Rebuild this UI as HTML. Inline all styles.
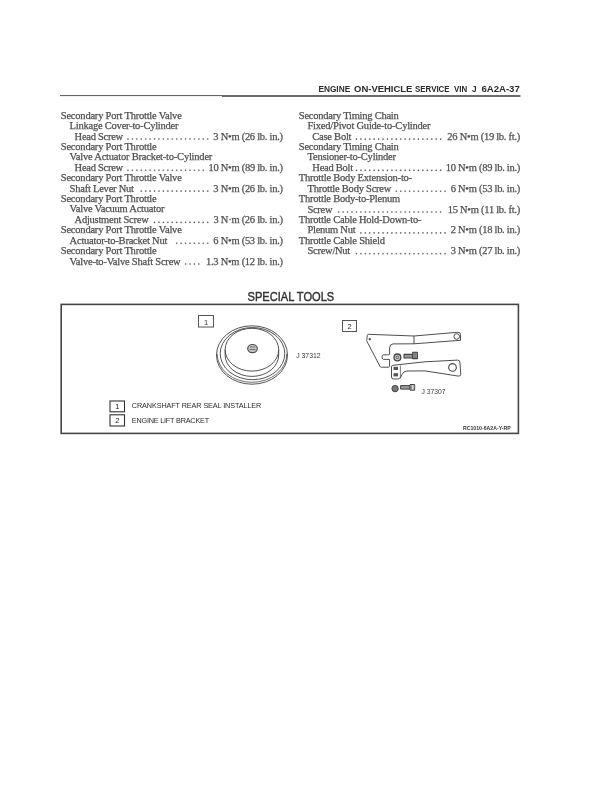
<!DOCTYPE html>
<html><head><meta charset="utf-8">
<style>
html,body{margin:0;padding:0;background:#fff;}
body{width:612px;height:791px;overflow:hidden;position:relative;}
svg{position:absolute;left:0;top:0;}
#wrap{position:absolute;left:0;top:0;width:612px;height:791px;will-change:transform;}
</style></head>
<body>
<div id="wrap">
<svg width="612" height="791" viewBox="0 0 612 791">
<!-- header -->
<g font-family="Liberation Sans" font-weight="bold" font-size="9.6" fill="#2a2a2a">
<text x="318.4" y="92.4" textLength="31.8" lengthAdjust="spacingAndGlyphs">ENGINE</text>
<text x="354.1" y="92.4" textLength="58.3" lengthAdjust="spacingAndGlyphs">ON-VEHICLE</text>
<text x="415" y="92.4" textLength="34.6" lengthAdjust="spacingAndGlyphs">SERVICE</text>
<text x="454.1" y="92.4" textLength="13.2" lengthAdjust="spacingAndGlyphs">VIN</text>
<text x="472" y="92.4" textLength="4.6" lengthAdjust="spacingAndGlyphs">J</text>
<text x="481.4" y="92.4" textLength="38.4" lengthAdjust="spacingAndGlyphs">6A2A-37</text>
</g>
<path d="M60 95.6H222" stroke="#555" stroke-width="1"/>
<path d="M222 95.9H520.5" stroke="#3a3a3a" stroke-width="1.5"/>
<!-- body text -->
<g font-family="Liberation Serif" font-size="10.5" fill="#505050" stroke="#505050" stroke-width="0.25">
<text x="60.80" y="118.70" textLength="121.00" lengthAdjust="spacing">Secondary Port Throttle Valve</text>
<text x="69.60" y="129.12" textLength="108.94" lengthAdjust="spacing">Linkage Cover-to-Cylinder</text>
<text x="74.60" y="139.54" textLength="48.59" lengthAdjust="spacing">Head Screw</text>
<text x="213.34" y="139.54" textLength="69.66" lengthAdjust="spacing">3 N•m (26 lb. in.)</text>
<path fill="#555" d="M207.15 138.44h1.1v1.1h-1.1zM202.72 138.44h1.1v1.1h-1.1zM198.29 138.44h1.1v1.1h-1.1zM193.86 138.44h1.1v1.1h-1.1zM189.43 138.44h1.1v1.1h-1.1zM185.00 138.44h1.1v1.1h-1.1zM180.57 138.44h1.1v1.1h-1.1zM176.14 138.44h1.1v1.1h-1.1zM171.71 138.44h1.1v1.1h-1.1zM167.28 138.44h1.1v1.1h-1.1zM162.85 138.44h1.1v1.1h-1.1zM158.42 138.44h1.1v1.1h-1.1zM153.99 138.44h1.1v1.1h-1.1zM149.56 138.44h1.1v1.1h-1.1zM145.13 138.44h1.1v1.1h-1.1zM140.70 138.44h1.1v1.1h-1.1zM136.27 138.44h1.1v1.1h-1.1zM131.84 138.44h1.1v1.1h-1.1zM127.41 138.44h1.1v1.1h-1.1z"/>
<text x="60.80" y="149.96" textLength="95.91" lengthAdjust="spacing">Secondary Port Throttle</text>
<text x="69.60" y="160.38" textLength="142.73" lengthAdjust="spacing">Valve Actuator Bracket-to-Cylinder</text>
<text x="74.60" y="170.80" textLength="48.59" lengthAdjust="spacing">Head Screw</text>
<text x="208.42" y="170.80" textLength="74.58" lengthAdjust="spacing">10 N•m (89 lb. in.)</text>
<path fill="#555" d="M202.72 169.70h1.1v1.1h-1.1zM198.29 169.70h1.1v1.1h-1.1zM193.86 169.70h1.1v1.1h-1.1zM189.43 169.70h1.1v1.1h-1.1zM185.00 169.70h1.1v1.1h-1.1zM180.57 169.70h1.1v1.1h-1.1zM176.14 169.70h1.1v1.1h-1.1zM171.71 169.70h1.1v1.1h-1.1zM167.28 169.70h1.1v1.1h-1.1zM162.85 169.70h1.1v1.1h-1.1zM158.42 169.70h1.1v1.1h-1.1zM153.99 169.70h1.1v1.1h-1.1zM149.56 169.70h1.1v1.1h-1.1zM145.13 169.70h1.1v1.1h-1.1zM140.70 169.70h1.1v1.1h-1.1zM136.27 169.70h1.1v1.1h-1.1zM131.84 169.70h1.1v1.1h-1.1zM127.41 169.70h1.1v1.1h-1.1z"/>
<text x="60.80" y="181.22" textLength="121.00" lengthAdjust="spacing">Secondary Port Throttle Valve</text>
<text x="69.60" y="191.64" textLength="64.42" lengthAdjust="spacing">Shaft Lever Nut</text>
<text x="213.34" y="191.64" textLength="69.66" lengthAdjust="spacing">3 N•m (26 lb. in.)</text>
<path fill="#555" d="M207.15 190.54h1.1v1.1h-1.1zM202.72 190.54h1.1v1.1h-1.1zM198.29 190.54h1.1v1.1h-1.1zM193.86 190.54h1.1v1.1h-1.1zM189.43 190.54h1.1v1.1h-1.1zM185.00 190.54h1.1v1.1h-1.1zM180.57 190.54h1.1v1.1h-1.1zM176.14 190.54h1.1v1.1h-1.1zM171.71 190.54h1.1v1.1h-1.1zM167.28 190.54h1.1v1.1h-1.1zM162.85 190.54h1.1v1.1h-1.1zM158.42 190.54h1.1v1.1h-1.1zM153.99 190.54h1.1v1.1h-1.1zM149.56 190.54h1.1v1.1h-1.1zM145.13 190.54h1.1v1.1h-1.1zM140.70 190.54h1.1v1.1h-1.1z"/>
<text x="60.80" y="202.06" textLength="95.91" lengthAdjust="spacing">Secondary Port Throttle</text>
<text x="69.60" y="212.48" textLength="94.79" lengthAdjust="spacing">Valve Vacuum Actuator</text>
<text x="74.60" y="222.90" textLength="74.16" lengthAdjust="spacing">Adjustment Screw</text>
<text x="213.51" y="222.90" textLength="69.49" lengthAdjust="spacing">3 N·m (26 lb. in.)</text>
<path fill="#555" d="M207.15 221.80h1.1v1.1h-1.1zM202.72 221.80h1.1v1.1h-1.1zM198.29 221.80h1.1v1.1h-1.1zM193.86 221.80h1.1v1.1h-1.1zM189.43 221.80h1.1v1.1h-1.1zM185.00 221.80h1.1v1.1h-1.1zM180.57 221.80h1.1v1.1h-1.1zM176.14 221.80h1.1v1.1h-1.1zM171.71 221.80h1.1v1.1h-1.1zM167.28 221.80h1.1v1.1h-1.1zM162.85 221.80h1.1v1.1h-1.1zM158.42 221.80h1.1v1.1h-1.1zM153.99 221.80h1.1v1.1h-1.1z"/>
<text x="60.80" y="233.32" textLength="121.00" lengthAdjust="spacing">Secondary Port Throttle Valve</text>
<text x="69.60" y="243.74" textLength="97.82" lengthAdjust="spacing">Actuator-to-Bracket Nut</text>
<text x="213.34" y="243.74" textLength="69.66" lengthAdjust="spacing">6 N•m (53 lb. in.)</text>
<path fill="#555" d="M207.15 242.64h1.1v1.1h-1.1zM202.72 242.64h1.1v1.1h-1.1zM198.29 242.64h1.1v1.1h-1.1zM193.86 242.64h1.1v1.1h-1.1zM189.43 242.64h1.1v1.1h-1.1zM185.00 242.64h1.1v1.1h-1.1zM180.57 242.64h1.1v1.1h-1.1zM176.14 242.64h1.1v1.1h-1.1z"/>
<text x="60.80" y="254.16" textLength="95.91" lengthAdjust="spacing">Secondary Port Throttle</text>
<text x="69.60" y="264.58" textLength="111.08" lengthAdjust="spacing">Valve-to-Valve Shaft Screw</text>
<text x="205.96" y="264.58" textLength="77.04" lengthAdjust="spacing">1.3 N•m (12 lb. in.)</text>
<path fill="#555" d="M198.29 263.48h1.1v1.1h-1.1zM193.86 263.48h1.1v1.1h-1.1zM189.43 263.48h1.1v1.1h-1.1zM185.00 263.48h1.1v1.1h-1.1z"/>
<text x="298.80" y="118.80" textLength="100.00" lengthAdjust="spacing">Secondary Timing Chain</text>
<text x="307.50" y="129.22" textLength="123.05" lengthAdjust="spacing">Fixed/Pivot Guide-to-Cylinder</text>
<text x="312.30" y="139.64" textLength="39.17" lengthAdjust="spacing">Case Bolt</text>
<text x="447.36" y="139.64" textLength="72.94" lengthAdjust="spacing">26 N•m (19 lb. ft.)</text>
<path fill="#555" d="M440.05 138.54h1.1v1.1h-1.1zM435.62 138.54h1.1v1.1h-1.1zM431.19 138.54h1.1v1.1h-1.1zM426.76 138.54h1.1v1.1h-1.1zM422.33 138.54h1.1v1.1h-1.1zM417.90 138.54h1.1v1.1h-1.1zM413.47 138.54h1.1v1.1h-1.1zM409.04 138.54h1.1v1.1h-1.1zM404.61 138.54h1.1v1.1h-1.1zM400.18 138.54h1.1v1.1h-1.1zM395.75 138.54h1.1v1.1h-1.1zM391.32 138.54h1.1v1.1h-1.1zM386.89 138.54h1.1v1.1h-1.1zM382.46 138.54h1.1v1.1h-1.1zM378.03 138.54h1.1v1.1h-1.1zM373.60 138.54h1.1v1.1h-1.1zM369.17 138.54h1.1v1.1h-1.1zM364.74 138.54h1.1v1.1h-1.1zM360.31 138.54h1.1v1.1h-1.1zM355.88 138.54h1.1v1.1h-1.1z"/>
<text x="298.80" y="150.06" textLength="100.00" lengthAdjust="spacing">Secondary Timing Chain</text>
<text x="307.50" y="160.48" textLength="88.52" lengthAdjust="spacing">Tensioner-to-Cylinder</text>
<text x="312.30" y="170.90" textLength="40.83" lengthAdjust="spacing">Head Bolt</text>
<text x="445.72" y="170.90" textLength="74.58" lengthAdjust="spacing">10 N•m (89 lb. in.)</text>
<path fill="#555" d="M440.05 169.80h1.1v1.1h-1.1zM435.62 169.80h1.1v1.1h-1.1zM431.19 169.80h1.1v1.1h-1.1zM426.76 169.80h1.1v1.1h-1.1zM422.33 169.80h1.1v1.1h-1.1zM417.90 169.80h1.1v1.1h-1.1zM413.47 169.80h1.1v1.1h-1.1zM409.04 169.80h1.1v1.1h-1.1zM404.61 169.80h1.1v1.1h-1.1zM400.18 169.80h1.1v1.1h-1.1zM395.75 169.80h1.1v1.1h-1.1zM391.32 169.80h1.1v1.1h-1.1zM386.89 169.80h1.1v1.1h-1.1zM382.46 169.80h1.1v1.1h-1.1zM378.03 169.80h1.1v1.1h-1.1zM373.60 169.80h1.1v1.1h-1.1zM369.17 169.80h1.1v1.1h-1.1zM364.74 169.80h1.1v1.1h-1.1zM360.31 169.80h1.1v1.1h-1.1zM355.88 169.80h1.1v1.1h-1.1z"/>
<text x="298.80" y="181.32" textLength="113.31" lengthAdjust="spacing">Throttle Body Extension-to-</text>
<text x="307.50" y="191.74" textLength="83.87" lengthAdjust="spacing">Throttle Body Screw</text>
<text x="450.64" y="191.74" textLength="69.66" lengthAdjust="spacing">6 N•m (53 lb. in.)</text>
<path fill="#555" d="M444.48 190.64h1.1v1.1h-1.1zM440.05 190.64h1.1v1.1h-1.1zM435.62 190.64h1.1v1.1h-1.1zM431.19 190.64h1.1v1.1h-1.1zM426.76 190.64h1.1v1.1h-1.1zM422.33 190.64h1.1v1.1h-1.1zM417.90 190.64h1.1v1.1h-1.1zM413.47 190.64h1.1v1.1h-1.1zM409.04 190.64h1.1v1.1h-1.1zM404.61 190.64h1.1v1.1h-1.1zM400.18 190.64h1.1v1.1h-1.1zM395.75 190.64h1.1v1.1h-1.1z"/>
<text x="298.80" y="202.16" textLength="101.38" lengthAdjust="spacing">Throttle Body-to-Plenum</text>
<text x="307.50" y="212.58" textLength="24.99" lengthAdjust="spacing">Screw</text>
<text x="447.73" y="212.58" textLength="72.57" lengthAdjust="spacing">15 N•m (11 lb. ft.)</text>
<path fill="#555" d="M440.05 211.48h1.1v1.1h-1.1zM435.62 211.48h1.1v1.1h-1.1zM431.19 211.48h1.1v1.1h-1.1zM426.76 211.48h1.1v1.1h-1.1zM422.33 211.48h1.1v1.1h-1.1zM417.90 211.48h1.1v1.1h-1.1zM413.47 211.48h1.1v1.1h-1.1zM409.04 211.48h1.1v1.1h-1.1zM404.61 211.48h1.1v1.1h-1.1zM400.18 211.48h1.1v1.1h-1.1zM395.75 211.48h1.1v1.1h-1.1zM391.32 211.48h1.1v1.1h-1.1zM386.89 211.48h1.1v1.1h-1.1zM382.46 211.48h1.1v1.1h-1.1zM378.03 211.48h1.1v1.1h-1.1zM373.60 211.48h1.1v1.1h-1.1zM369.17 211.48h1.1v1.1h-1.1zM364.74 211.48h1.1v1.1h-1.1zM360.31 211.48h1.1v1.1h-1.1zM355.88 211.48h1.1v1.1h-1.1zM351.45 211.48h1.1v1.1h-1.1zM347.02 211.48h1.1v1.1h-1.1zM342.59 211.48h1.1v1.1h-1.1zM338.16 211.48h1.1v1.1h-1.1z"/>
<text x="298.80" y="223.00" textLength="122.75" lengthAdjust="spacing">Throttle Cable Hold-Down-to-</text>
<text x="307.50" y="233.42" textLength="48.06" lengthAdjust="spacing">Plenum Nut</text>
<text x="450.64" y="233.42" textLength="69.66" lengthAdjust="spacing">2 N•m (18 lb. in.)</text>
<path fill="#555" d="M444.48 232.32h1.1v1.1h-1.1zM440.05 232.32h1.1v1.1h-1.1zM435.62 232.32h1.1v1.1h-1.1zM431.19 232.32h1.1v1.1h-1.1zM426.76 232.32h1.1v1.1h-1.1zM422.33 232.32h1.1v1.1h-1.1zM417.90 232.32h1.1v1.1h-1.1zM413.47 232.32h1.1v1.1h-1.1zM409.04 232.32h1.1v1.1h-1.1zM404.61 232.32h1.1v1.1h-1.1zM400.18 232.32h1.1v1.1h-1.1zM395.75 232.32h1.1v1.1h-1.1zM391.32 232.32h1.1v1.1h-1.1zM386.89 232.32h1.1v1.1h-1.1zM382.46 232.32h1.1v1.1h-1.1zM378.03 232.32h1.1v1.1h-1.1zM373.60 232.32h1.1v1.1h-1.1zM369.17 232.32h1.1v1.1h-1.1zM364.74 232.32h1.1v1.1h-1.1zM360.31 232.32h1.1v1.1h-1.1z"/>
<text x="298.80" y="243.84" textLength="86.09" lengthAdjust="spacing">Throttle Cable Shield</text>
<text x="307.50" y="254.26" textLength="42.77" lengthAdjust="spacing">Screw/Nut</text>
<text x="450.64" y="254.26" textLength="69.66" lengthAdjust="spacing">3 N•m (27 lb. in.)</text>
<path fill="#555" d="M444.48 253.16h1.1v1.1h-1.1zM440.05 253.16h1.1v1.1h-1.1zM435.62 253.16h1.1v1.1h-1.1zM431.19 253.16h1.1v1.1h-1.1zM426.76 253.16h1.1v1.1h-1.1zM422.33 253.16h1.1v1.1h-1.1zM417.90 253.16h1.1v1.1h-1.1zM413.47 253.16h1.1v1.1h-1.1zM409.04 253.16h1.1v1.1h-1.1zM404.61 253.16h1.1v1.1h-1.1zM400.18 253.16h1.1v1.1h-1.1zM395.75 253.16h1.1v1.1h-1.1zM391.32 253.16h1.1v1.1h-1.1zM386.89 253.16h1.1v1.1h-1.1zM382.46 253.16h1.1v1.1h-1.1zM378.03 253.16h1.1v1.1h-1.1zM373.60 253.16h1.1v1.1h-1.1zM369.17 253.16h1.1v1.1h-1.1zM364.74 253.16h1.1v1.1h-1.1zM360.31 253.16h1.1v1.1h-1.1zM355.88 253.16h1.1v1.1h-1.1z"/>
</g>
<!-- special tools -->
<text x="247.6" y="301.4" font-family="Liberation Sans" font-size="13.4" fill="#333" stroke="#333" stroke-width="0.45" textLength="86.6" lengthAdjust="spacingAndGlyphs">SPECIAL TOOLS</text>
<rect x="61.2" y="304.4" width="457.2" height="129" fill="none" stroke="#454545" stroke-width="1.6"/>
<!-- numbered boxes -->
<rect x="198.5" y="315.5" width="15" height="11.5" fill="none" stroke="#555" stroke-width="1"/>
<text x="206" y="324.6" font-family="Liberation Sans" font-size="7.5" fill="#333" text-anchor="middle">1</text>
<rect x="342.5" y="320.5" width="14" height="11" fill="none" stroke="#555" stroke-width="1"/>
<text x="349.6" y="329.4" font-family="Liberation Sans" font-size="7.5" fill="#333" text-anchor="middle">2</text>
<!-- seal installer -->
<g fill="none" stroke="#4a4a4a" stroke-width="0.95">
<ellipse cx="252" cy="355" rx="35.5" ry="29.2"/>
<path d="M217.2 354 A34.8 28.3 0 0 0 286.8 354" stroke-width="0.8"/>
<ellipse cx="252.5" cy="353.6" rx="32.3" ry="26.1"/>
<ellipse cx="251.9" cy="349.7" rx="26.8" ry="21.4"/>
<path d="M225.1 349.7 V355 A26.8 21.4 0 0 0 278.7 355 V349.7"/>
<ellipse cx="252.5" cy="348.6" rx="4.8" ry="4.1" stroke-width="1.2" fill="#ccc"/>
<path d="M249.8 347h5.6M249.5 349.6h6.2" stroke-width="0.8"/>
</g>
<text x="296.2" y="358.4" font-family="Liberation Sans" font-size="7.6" fill="#3a3a3a" textLength="24.5" lengthAdjust="spacingAndGlyphs">J 37312</text>
<!-- bracket -->
<g fill="none" stroke="#444" stroke-width="0.95" stroke-linejoin="round">
<path d="M368.5 334.3 L414 336 L457.7 332.3 Q460.5 332.1 460.5 334.5 L460.5 340.3 L414 343.8 L393 343.9 Q389.6 344.2 389.6 348 L389.6 354.5 Q389.4 354.8 387.6 354.8 L383.3 354.8 Q382 355 382 357 Q382 359.4 383.5 359.4 L389.6 359.4 L389.6 366.6 Q389.6 367.2 388.6 367.2 L381.3 367.2 Q380.4 367.2 380 366.4 L367 341.5 Q366.6 340.6 366.8 339.5 L367.3 335.3 Q367.5 334.3 368.5 334.3 Z"/>
<path d="M414 336 V343.8"/>
<circle cx="456.7" cy="336.5" r="2.8"/>
<circle cx="369.8" cy="339.2" r="0.8" fill="#444"/>
<path d="M392.8 365.3 L425 361.8 L457.7 360.1 Q459.8 360.1 459.9 362.6 L460.8 374.5 Q460.9 376.1 458.4 376.1 L425 370.9 L407 371 Q403.5 371.2 402 374.5 L400.8 377 Q399.8 379 397.5 379 L393.5 379 Q391.5 379 391.5 377 L391.5 366.8 Q391.5 365.5 392.8 365.3 Z"/>
<path d="M400.4 365.5 V378.5" stroke-width="0.7"/>
<circle cx="452.5" cy="367.4" r="3.8" stroke-width="1.1"/>
<rect x="393.5" y="366.8" width="4.5" height="3.2" fill="#555" stroke="none"/>
<rect x="393.5" y="373.2" width="4.5" height="3.2" fill="#555" stroke="none"/>
<circle cx="397.4" cy="357.4" r="3.4" stroke-width="1.3" fill="#ccc"/>
<circle cx="397.4" cy="357.4" r="1.4" stroke-width="0.8"/>
<path d="M404 354.4h8.6v3.6h-8.6z" stroke-width="1.1" fill="#999"/>
<path d="M412.6 352.2h4.8v6.4h-4.8z" stroke-width="1.1" fill="#aaa"/>
<path d="M414.2 352.5v6M415.8 352.5v6" stroke-width="0.6"/>
<circle cx="395.1" cy="388.6" r="3.2" fill="#777" stroke-width="1"/>
<path d="M400.6 385.6h9.4v3.5h-9.4z" stroke-width="1" fill="#999"/>
<path d="M410 384.5h4.7v5.7h-4.7z" stroke-width="1"/>
<path d="M411.6 384.8v5.2M413.2 384.8v5.2" stroke-width="0.6"/>
</g>
<text x="421.6" y="393.9" font-family="Liberation Sans" font-size="7.4" fill="#3a3a3a" textLength="24" lengthAdjust="spacingAndGlyphs">J 37307</text>
<!-- legend -->
<rect x="110" y="401" width="14.5" height="10.8" fill="none" stroke="#333" stroke-width="1.1"/>
<text x="117.3" y="408.8" font-family="Liberation Sans" font-size="7.6" fill="#222" text-anchor="middle">1</text>
<rect x="110" y="414.8" width="14.5" height="11.2" fill="none" stroke="#333" stroke-width="1.1"/>
<text x="117.3" y="422.8" font-family="Liberation Sans" font-size="7.6" fill="#222" text-anchor="middle">2</text>
<text x="131.8" y="408.4" font-family="Liberation Sans" font-size="7.25" fill="#2a2a2a" textLength="129.5" lengthAdjust="spacing">CRANKSHAFT REAR SEAL INSTALLER</text>
<text x="131.8" y="422.6" font-family="Liberation Sans" font-size="7.25" fill="#2a2a2a" textLength="77.3" lengthAdjust="spacing">ENGINE LIFT BRACKET</text>
<text x="463" y="430.1" font-family="Liberation Sans" font-weight="bold" font-size="6" fill="#333" textLength="47.7" lengthAdjust="spacingAndGlyphs">RC1010-6A2A-Y-RP</text>
</svg>
</div>
</body></html>
